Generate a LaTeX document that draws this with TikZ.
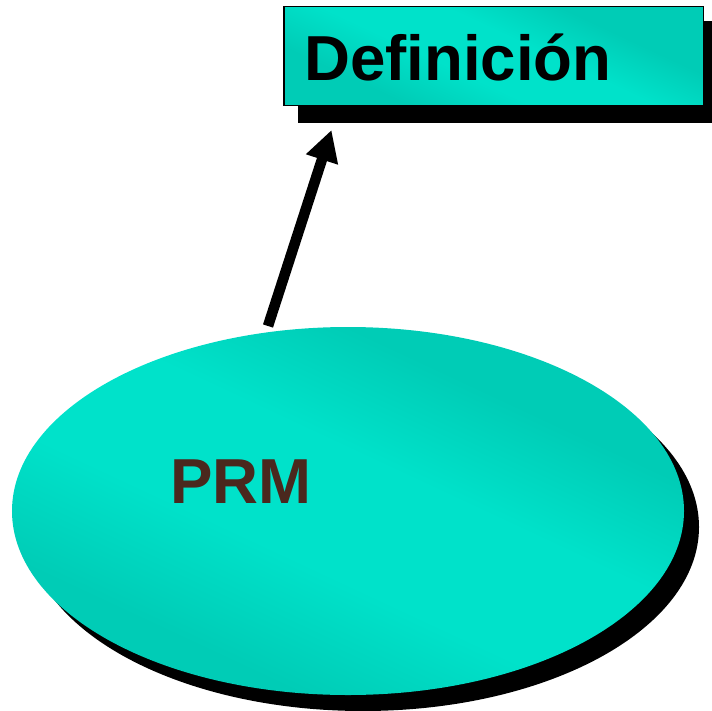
\documentclass[tikz,border=0pt]{standalone}
\usepackage{fontspec}
\setmainfont{Liberation Sans}
\usetikzlibrary{arrows.meta,shapes.geometric,calc}
\definecolor{tealmain}{RGB}{0,226,202}
\definecolor{tealdark}{RGB}{0,204,182}
\definecolor{prmbrown}{RGB}{74,40,30}
\pgfdeclarehorizontalshading{tealband}{100bp}{
  color(0bp)=(tealdark); color(30bp)=(tealdark); color(43bp)=(tealmain);
  color(56bp)=(tealmain); color(68bp)=(tealdark); color(100bp)=(tealdark)}
\tikzset{
 shadowshape/.style={fill=black,draw=none},
 boxface/.style={draw=black,line width=1.5bp,minimum width=419.5bp,minimum height=99bp,inner sep=0pt,
   shading=tealband,shading angle=65},
 ellface/.style={ellipse,draw=none,minimum width=672bp,minimum height=368bp,inner sep=0pt,
   shading=tealband,shading angle=65},
 bigarrow/.style={line width=10.5bp,-{Triangle[length=31bp,width=31.5bp]}},
 lab/.style={inner sep=0pt,anchor=base west}
}
\begin{document}
\begin{tikzpicture}[x=1bp,y=-1bp]
\useasboundingbox (0,0) rectangle (712,711);
% shadows
\node[ellipse,shadowshape,minimum width=672bp,minimum height=368bp,inner sep=0pt] (es) at (363,527) {};
\node[shadowshape,minimum width=414bp,minimum height=102bp,inner sep=0pt] (bs) at (505,72) {};
% faces
\node[ellface] (ell) at (348,511) {};
\node[boxface] (box) at (493.5,56) {};
\node[lab,font=\bfseries\fontsize{63.6bp}{68bp}\selectfont,text=black] (def) at (304,81) {Definición};
\node[lab,font=\bfseries\fontsize{63.6bp}{68bp}\selectfont,text=prmbrown] (prm) at (170,503) {PRM};
\coordinate (tail) at (268,326);
\coordinate (tip) at (331.5,130);
\draw[bigarrow] (tail) -- (tip);
\end{tikzpicture}
\end{document}
